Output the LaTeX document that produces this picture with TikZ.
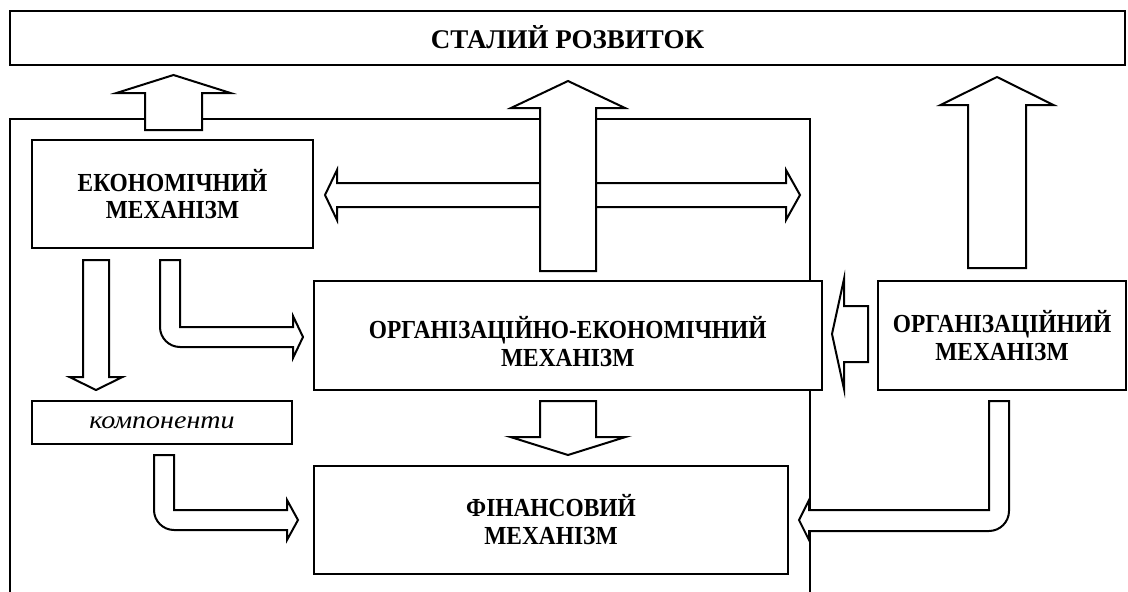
\documentclass[tikz,border=0pt]{standalone}
\usepackage{fontspec}
\setmainfont{Liberation Serif}
\newfontfamily\boxfont{Liberation Serif}[FakeStretch=0.9]
\newfontfamily\compfont{Liberation Serif}[FakeStretch=1.12]
\tikzset{
  box/.style={rectangle, draw, fill=white, line width=2pt, inner sep=0pt,
    outer sep=0pt, align=center,
    font=\boxfont\fontsize{26}{27.5}\selectfont\bfseries},
  blockarrow/.style={draw, fill=white, line width=2pt, line join=miter}
}
%% vertical block arrow: x centre, tail y, head base y, tip y, half shaft, half head
\newcommand{\vertarrow}[6]{
  \draw[blockarrow] ({#1-#5},#2) -- ({#1-#5},#3) -- ({#1-#6},#3) -- (#1,#4)
    -- ({#1+#6},#3) -- ({#1+#5},#3) -- ({#1+#5},#2) -- cycle;
}
\begin{document}
\begin{tikzpicture}[x=1pt, y=-1pt]

\useasboundingbox (0,0) rectangle (1128,592);

%% frame of the economic mechanism
\draw[line width=2pt] (10,592) -- (10,119) -- (810,119) -- (810,592);

\node (sustain) at (567.5, 37.5) [box, minimum width=1115pt, minimum height=54pt,
  font=\fontsize{27}{30}\selectfont\bfseries] {СТАЛИЙ РОЗВИТОК};

\node (econ) at (172.5, 194) [box, minimum width=281pt, minimum height=108pt]
  {ЕКОНОМІЧНИЙ\\МЕХАНІЗМ};

\node (orgecon) at (567.75, 335.5) [box, minimum width=508.5pt, minimum height=109pt] {};
\node (orgecontext) at ([yshift=-6pt]orgecon.center) [align=center,
  font=\boxfont\fontsize{26}{27.5}\selectfont\bfseries] {ОРГАНІЗАЦІЙНО-ЕКОНОМІЧНИЙ\\МЕХАНІЗМ};

\node (org) at (1002, 335.5) [box, minimum width=248pt, minimum height=109pt]
  {ОРГАНІЗАЦІЙНИЙ\\МЕХАНІЗМ};

\node (comp) at (162, 422.5) [box, minimum width=260pt, minimum height=43pt,
  font=\compfont\fontsize{25}{28}\selectfont\itshape] {компоненти};

\node (fin) at (551, 519.75) [box, minimum width=474pt, minimum height=107.5pt]
  {ФІНАНСОВИЙ\\МЕХАНІЗМ};

%% double arrow econ <-> frame
\draw[blockarrow] (337,183) -- (786,183) -- (786,170) -- (800,195) -- (786,220)
  -- (786,207) -- (337,207) -- (337,220) -- (325,195) -- (337,170) -- cycle;

%% arrows up to sustain
\vertarrow{173.5}{130}{93}{75}{28.5}{57}
\vertarrow{568}{271}{108}{81}{28}{57}
\vertarrow{997}{268}{105}{77}{29}{56.5}

%% arrows down
\vertarrow{96}{260}{377}{390}{13}{26.5}
\vertarrow{568}{401}{437}{455}{28}{57.5}

%% bent arrows
\draw[blockarrow] (180,260) -- (180,327) -- (293,327) -- (293,316) -- (303,337)
  -- (293,358) -- (293,347) -- (180,347) .. controls (169,347) and (160,338) .. (160,327)
  -- (160,260) -- cycle;
\draw[blockarrow] (174,455) -- (174,510) -- (287,510) -- (287,500) -- (298,520)
  -- (287,540) -- (287,530) -- (174,530) .. controls (163,530) and (154,521) .. (154,510)
  -- (154,455) -- cycle;
\draw[blockarrow] (989,401) -- (989,510) -- (809,510) -- (809,500) -- (799,520)
  -- (809,540) -- (809,531) -- (989,531) .. controls (1000,531) and (1009,522) .. (1009,511)
  -- (1009,401) -- cycle;

%% org -> orgecon
\draw[blockarrow] (868,306) -- (844,306) -- (844,279) -- (832,334) -- (844,389)
  -- (844,362) -- (868,362) -- cycle;

\end{tikzpicture}
\end{document}
